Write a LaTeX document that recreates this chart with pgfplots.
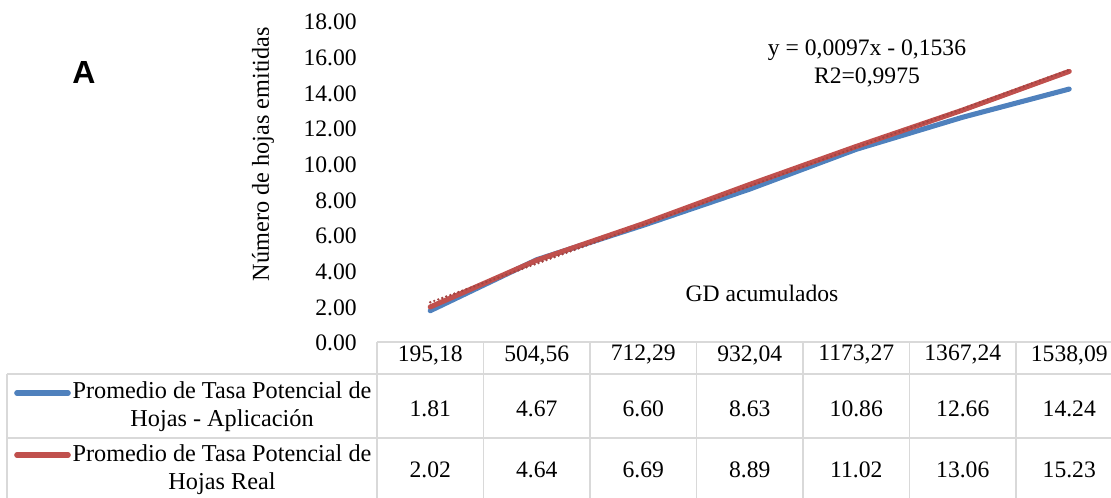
\documentclass[border=0pt]{standalone}
\usepackage{fontspec}
\setmainfont{Liberation Serif}
\newfontfamily\arialfont{Liberation Sans}
\usepackage{pgfplots}
\pgfplotsset{compat=1.18}
\definecolor{exblue}{HTML}{4F81BD}
\definecolor{exred}{HTML}{C0504D}
\definecolor{gridgray}{HTML}{D9D9D9}
\newcommand{\fs}{\fontsize{17.7}{20.5}\selectfont}
\begin{document}
\begin{tikzpicture}[x=0.75pt,y=0.75pt]
\useasboundingbox (0,0) rectangle (1111,498);
\begin{axis}[
  at={(282.75pt,116.25pt)}, anchor=south west,
  scale only axis,
  width=559.1pt, height=240.75pt,
  xmin=0.5, xmax=7.5, ymin=0, ymax=18,
  axis line style={draw=none},
  major tick length=0pt,
  xtick=\empty,
  ytick={0,2,4,6,8,10,12,14,16,18},
  yticklabels={0.00,2.00,4.00,6.00,8.00,10.00,12.00,14.00,16.00,18.00},
  yticklabel style={font=\fs, anchor=east, inner sep=0pt, xshift=-15pt},
  clip=false,
]
\addplot[exblue, line width=3.8pt, line cap=round, line join=round] coordinates {
  (1,1.81) (2,4.67) (3,6.60) (4,8.63) (5,10.86) (6,12.66) (7,14.24)};
\addplot[exred, line width=3.8pt, line cap=round, line join=round] coordinates {
  (1,2.02) (2,4.64) (3,6.69) (4,8.89) (5,11.02) (6,13.06) (7,15.23)};
\addplot[exred!85!black, line width=2pt, line cap=round, dash pattern=on 0pt off 3.2pt] coordinates {
  (1,2.28) (7,15.31)};
\end{axis}
% texts
\node[rotate=90, font=\fontsize{18.2}{21}\selectfont] at (263,344) {Número de hojas emitidas};
\node[font=\arialfont\bfseries\fontsize{24}{28}\selectfont] at (84,425) {A};
\node[font=\fs] at (867,448) {y = 0,0097x - 0,1536};
\node[font=\fs] at (867,421) {R2=0,9975};
\node[font=\fs] at (762,205) {GD acumulados};
% data table
\begin{scope}[draw=gridgray, line width=1.1pt]
\draw (377,156) -- (1111,156);
\draw (7,124) -- (1111,124);
\draw (7,60) -- (1111,60);
\draw (7,124) -- (7,0);
\foreach \k in {0,...,6} {\draw ({377+106.5*\k},156) -- ({377+106.5*\k},0);}
\end{scope}
\node[font=\fs] at (430.25,143) {195,18};
\node[font=\fs] at (536.75,143) {504,56};
\node[font=\fs] at (643.25,143) {712,29};
\node[font=\fs] at (749.75,143) {932,04};
\node[font=\fs] at (856.25,143) {1173,27};
\node[font=\fs] at (962.75,143) {1367,24};
\node[font=\fs] at (1069.25,143) {1538,09};
\node[font=\fs] at (430.25,89) {1.81};
\node[font=\fs] at (536.75,89) {4.67};
\node[font=\fs] at (643.25,89) {6.60};
\node[font=\fs] at (749.75,89) {8.63};
\node[font=\fs] at (856.25,89) {10.86};
\node[font=\fs] at (962.75,89) {12.66};
\node[font=\fs] at (1069.25,89) {14.24};
\node[font=\fs] at (430.25,28) {2.02};
\node[font=\fs] at (536.75,28) {4.64};
\node[font=\fs] at (643.25,28) {6.69};
\node[font=\fs] at (749.75,28) {8.89};
\node[font=\fs] at (856.25,28) {11.02};
\node[font=\fs] at (962.75,28) {13.06};
\node[font=\fs] at (1069.25,28) {15.23};
\node[font=\fontsize{18.2}{21}\selectfont, align=center, inner sep=0pt] at (222,91.5) {Promedio de Tasa Potencial de\\Hojas - Aplicación};
\node[font=\fontsize{18.2}{21}\selectfont, align=center, inner sep=0pt] at (222,28) {Promedio de Tasa Potencial de\\Hojas Real};
\draw[exblue, line width=4.2pt, line cap=round] (17,105) -- (68,105);
\draw[exred, line width=4.2pt, line cap=round] (17,43) -- (68,43);
\end{tikzpicture}
\end{document}
